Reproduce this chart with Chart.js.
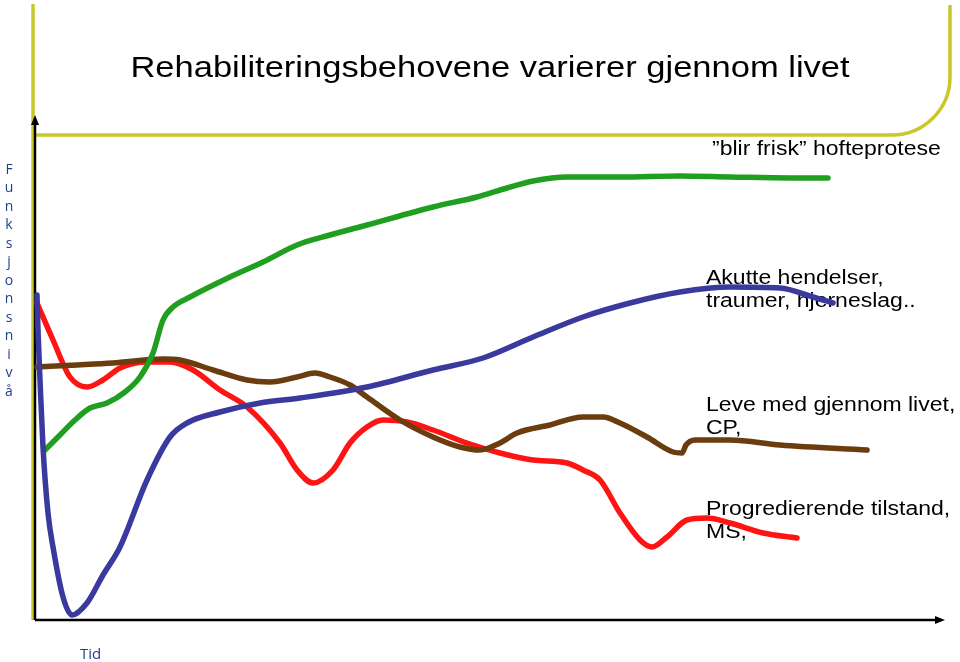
<!DOCTYPE html>
<html>
<head>
<meta charset="utf-8">
<script src="https://cdn.jsdelivr.net/npm/chart.js@4/dist/chart.umd.min.js"></script>
<style>
  html, body { margin: 0; padding: 0; background: #fff; }
  #wrap { width: 960px; height: 662px; }
</style>
</head>
<body>
<div id="wrap"><canvas id="graph" width="960" height="662"></canvas></div>
<script>
// Tid (0-90) og funksjonsniva (0-100), lest av bildet
const tidFrisk  = [1.0, 2.5, 4.0, 5.5, 7.2, 9.0, 10.5, 11.8, 12.8, 13.8, 15.5, 19.5, 22.8, 26.2, 29.5, 33.2, 39.8, 44.2, 47.2, 49.8, 53.2, 58.5, 64.5, 69.5, 75.5, 79.3];
const nivaFrisk = [34.0, 37.0, 40.0, 42.4, 43.4, 45.6, 48.6, 53.4, 60.0, 62.6, 64.6, 68.6, 71.6, 75.0, 77.0, 79.0, 82.6, 84.6, 86.4, 87.8, 88.6, 88.6, 88.8, 88.6, 88.4, 88.4];

const tidAkutt  = [0.2, 0.3, 0.5, 0.8, 1.3, 1.8, 2.8, 3.7, 5.2, 6.8, 8.5, 11.2, 13.5, 15.2, 18.5, 22.5, 26.5, 33.2, 39.8, 44.8, 49.8, 54.8, 59.5, 64.5, 69.5, 74.5, 77.8, 79.8];
const nivaAkutt = [65.0, 58.0, 48.0, 34.6, 21.4, 14.6, 4.6, 1.0, 3.4, 9.0, 14.6, 28.0, 36.6, 39.4, 41.6, 43.4, 44.4, 46.6, 50.0, 52.4, 56.6, 60.6, 63.4, 65.6, 66.6, 66.4, 64.6, 63.4];

const tidLeve  = [0.2, 4.2, 7.8, 12.8, 14.5, 17.8, 21.2, 23.5, 26.2, 28.0, 29.5, 31.5, 33.2, 36.5, 39.8, 42.5, 44.5, 46.5, 48.2, 51.5, 54.8, 56.8, 58.5, 61.2, 63.8, 64.7, 65.1, 66.0, 69.5, 74.5, 83.2];
const nivaLeve = [50.6, 51.0, 51.4, 52.2, 52.0, 50.0, 48.0, 47.6, 48.6, 49.4, 48.6, 47.0, 44.6, 40.0, 36.6, 34.6, 34.0, 35.4, 37.4, 39.0, 40.6, 40.6, 39.4, 36.6, 33.6, 33.4, 35.0, 36.0, 36.0, 35.0, 34.0];

const tidProg  = [0.2, 1.8, 3.5, 5.2, 6.8, 8.5, 11.2, 13.5, 15.8, 18.5, 21.2, 24.5, 26.2, 27.8, 29.8, 31.5, 33.2, 34.8, 37.2, 39.8, 43.2, 46.5, 49.8, 53.2, 54.8, 56.5, 58.5, 60.5, 61.7, 63.2, 65.2, 67.2, 69.5, 72.8, 76.2];
const nivaProg = [63.4, 56.0, 48.6, 46.6, 48.0, 50.4, 51.6, 51.6, 50.0, 46.0, 42.6, 35.4, 30.0, 27.4, 30.0, 35.4, 38.6, 40.0, 39.6, 38.0, 35.4, 33.4, 32.0, 31.4, 30.0, 28.0, 21.4, 16.0, 14.6, 16.6, 20.0, 20.4, 19.4, 17.4, 16.4];

const etiketter = [
  { tekst: ['\u201Dblir frisk\u201D hofteprotese'], x: 712, y: 155 },
  { tekst: ['Akutte hendelser,', 'traumer, hjerneslag..'], x: 706, y: 284 },
  { tekst: ['Leve med gjennom livet,', 'CP,'], x: 706, y: 411 },
  { tekst: ['Progredierende tilstand,', 'MS,'], x: 706, y: 515 }
];
const tittel = 'Rehabiliteringsbehovene varierer gjennom livet';
const yTittel = 'Funksjonsniv\u00E5';
const xTittel = 'Tid';

function punkter(xs, ys) {
  return xs.map(function (x, i) { return { x: x, y: ys[i] }; });
}

function strektTekst(ctx, txt, x, y, size, align) {
  ctx.save();
  ctx.translate(x, y);
  ctx.scale(1.15, 1);
  ctx.font = size + 'px "Liberation Sans", Arial, sans-serif';
  ctx.textAlign = align;
  ctx.textBaseline = 'alphabetic';
  ctx.fillStyle = '#000';
  ctx.fillText(txt, 0, 0);
  ctx.restore();
}

const pynt = {
  id: 'pynt',
  beforeDatasetsDraw: function (chart) {
    const ctx = chart.ctx;
    const x0 = chart.scales.x.getPixelForValue(0);
    const y0 = chart.scales.y.getPixelForValue(0);
    const xEnd = chart.scales.x.getPixelForValue(91);
    const yTop = chart.scales.y.getPixelForValue(101);

    // gul ramme rundt tittelen
    ctx.save();
    ctx.strokeStyle = '#c9c82a';
    ctx.lineWidth = 3.5;
    ctx.beginPath();
    ctx.moveTo(x0 - 2, 4);
    ctx.lineTo(x0 - 2, y0);
    ctx.stroke();
    ctx.beginPath();
    ctx.moveTo(x0, 135);
    ctx.arcTo(950, 135, 950, 5, 58);
    ctx.lineTo(950, 5);
    ctx.stroke();
    ctx.restore();

    strektTekst(ctx, tittel, 490, 77, 30, 'center');

    // akser med piler
    ctx.save();
    ctx.strokeStyle = '#000';
    ctx.fillStyle = '#000';
    ctx.lineWidth = 2.5;
    ctx.beginPath();
    ctx.moveTo(x0, y0);
    ctx.lineTo(x0, yTop + 6);
    ctx.moveTo(x0, y0);
    ctx.lineTo(xEnd - 6, y0);
    ctx.stroke();
    ctx.beginPath();
    ctx.moveTo(x0, yTop);
    ctx.lineTo(x0 - 4, yTop + 10);
    ctx.lineTo(x0 + 4, yTop + 10);
    ctx.closePath();
    ctx.fill();
    ctx.beginPath();
    ctx.moveTo(xEnd, y0);
    ctx.lineTo(xEnd - 10, y0 - 4);
    ctx.lineTo(xEnd - 10, y0 + 4);
    ctx.closePath();
    ctx.fill();
    ctx.restore();

    // aksetitler
    ctx.save();
    ctx.fillStyle = '#1f3f8f';
    ctx.font = '14px "Open Sans", "Noto Sans", sans-serif';
    ctx.textAlign = 'center';
    ctx.textBaseline = 'middle';
    yTittel.split('').forEach(function (c, i) {
      ctx.fillText(c, 9, 170 + i * 18.5);
    });
    ctx.textAlign = 'left';
    ctx.font = '15px "Open Sans", "Noto Sans", sans-serif';
    ctx.fillText(xTittel, 80, 655);
    ctx.restore();

    // forklaringer
    etiketter.forEach(function (e) {
      e.tekst.forEach(function (t, i) {
        strektTekst(ctx, t, e.x, e.y + i * 23, 20, 'left');
      });
    });
  }
};

function serie(navn, xs, ys, farge, rekke) {
  return {
    label: navn,
    data: punkter(xs, ys),
    borderColor: farge,
    backgroundColor: farge,
    borderWidth: 5.5,
    borderCapStyle: 'round',
    borderJoinStyle: 'round',
    cubicInterpolationMode: 'monotone',
    pointRadius: 0,
    fill: false,
    clip: false,
    order: rekke
  };
}

new Chart(document.getElementById('graph'), {
  type: 'line',
  data: {
    datasets: [
      serie('Akutte hendelser', tidAkutt, nivaAkutt, '#3a3a9e', 1),
      serie('Blir frisk', tidFrisk, nivaFrisk, '#1f9e1f', 2),
      serie('Leve med', tidLeve, nivaLeve, '#6b3c0e', 3),
      serie('Progredierende', tidProg, nivaProg, '#ff1414', 4)
    ]
  },
  options: {
    responsive: false,
    animation: false,
    devicePixelRatio: 1,
    layout: { padding: { left: 35, right: 25, top: 120, bottom: 42 } },
    scales: {
      x: { type: 'linear', min: 0, max: 90, display: false },
      y: { min: 0, max: 100, display: false }
    },
    plugins: {
      legend: { display: false },
      tooltip: { enabled: false }
    }
  },
  plugins: [pynt]
});
</script>
</body>
</html>
